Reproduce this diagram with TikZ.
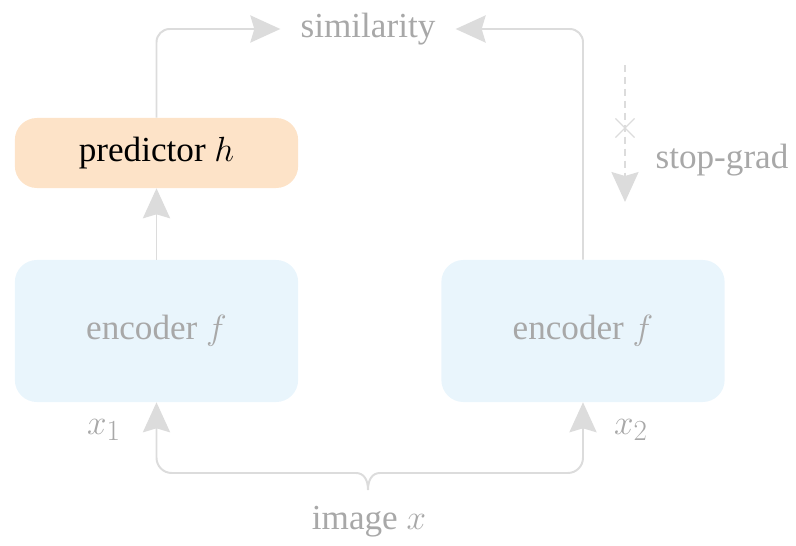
\documentclass[tikz,border=0pt]{standalone}
\usepackage{fontspec}
\setmainfont{Liberation Serif}
\DeclareMathSizes{28}{28}{21}{16}
\usetikzlibrary{arrows.meta, positioning, shapes.misc}
\definecolor{linegray}{RGB}{220,220,220}
\definecolor{textgray}{RGB}{168,168,168}
\definecolor{predfill}{RGB}{253,227,200}
\definecolor{encfill}{RGB}{233,245,252}

\begin{document}
\begin{tikzpicture}[x=0.025cm, y=-0.025cm,
      box/.style={rounded corners=0.55cm, minimum width=7.08cm, align=center, font=\fontsize{25}{30}\selectfont},
      lbl/.style={text=textgray, font=\fontsize{25}{30}\selectfont},
      conn/.style={-{Stealth[length=0.75cm, width=0.68cm, inset=0.1cm]}, linegray, line width=1.4pt},
      sgline/.style={-{Stealth[length=0.75cm, width=0.68cm, inset=0.1cm]}, linegray, line width=1pt, dash pattern=on 5pt off 3.5pt}
    ]
      \useasboundingbox (0,0) rectangle (796,546);

      \node[box, fill=predfill, minimum height=1.75cm] (pred) at (156.5,153) {predictor $h$};
      \node[box, fill=encfill, minimum height=3.55cm, text=textgray] (encL) at (156.5,331) {encoder $f$};
      \node[box, fill=encfill, minimum height=3.55cm, text=textgray] (encR) at (583,331) {encoder $f$};
      \node[lbl, inner xsep=0.5cm] (sim) at (368,29) {similarity};

      \draw[conn] (encL.north) -- (pred.south);
      \draw[conn, rounded corners=0.33cm] (pred.north) |- (sim.west);
      \draw[conn, rounded corners=0.33cm] (encR.north) |- (sim.east);

      % stop-grad on the right branch
      \coordinate (sgtop) at (625,65);
      \coordinate (sgend) at (625,202);
      \draw[sgline] (sgtop) -- (sgend);
      \node[cross out, draw=linegray, line width=0.8pt, minimum size=0.45cm, inner sep=0pt] (sgcross) at (625,128) {};
      \node[lbl] (sglabel) at (722,160) {stop-grad};

      % inputs
      \node[lbl, font=\fontsize{28}{32}\selectfont] (xone) at (104,430) {$x_1$};
      \node[lbl, font=\fontsize{28}{32}\selectfont] (xtwo) at (631,430) {$x_2$};
      \node[lbl] (img) at (369,522) {image $x$};
      \coordinate (brace) at (368,490);
      \coordinate (braceL) at (356,473);
      \coordinate (braceR) at (380,473);
      \draw[linegray, line width=1.4pt] (braceL) .. controls (364,473) and (368,480) .. (brace)
        .. controls (368,480) and (372,473) .. (braceR);
      \draw[conn, rounded corners=0.38cm] (braceL) -| (encL.south);
      \draw[conn, rounded corners=0.38cm] (braceR) -| (encR.south);
    \end{tikzpicture}
\end{document}
